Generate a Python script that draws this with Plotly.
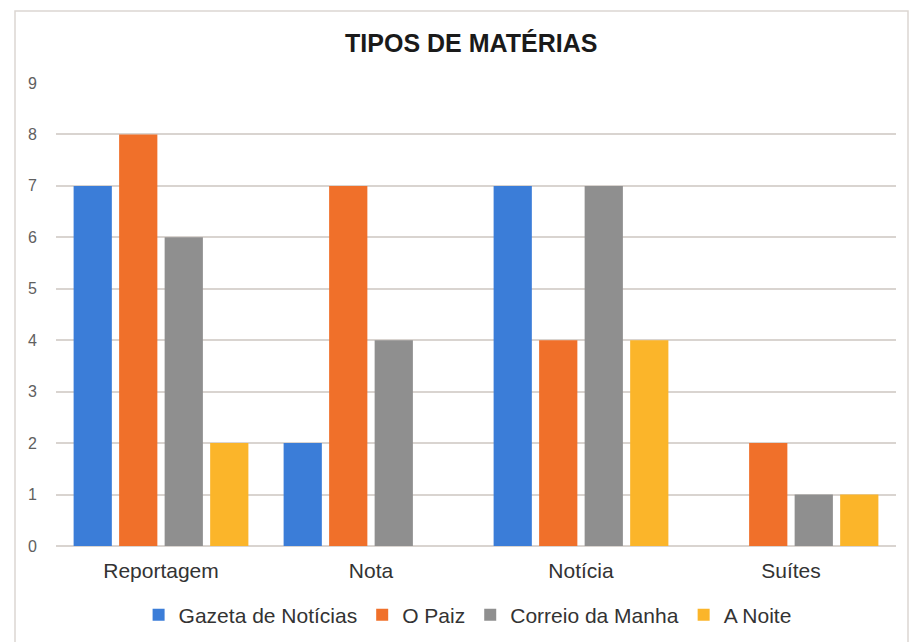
import plotly.graph_objects as go

categories = ["Reportagem", "Nota", "Notícia", "Suítes"]
series_names = ["Gazeta de Notícias", "O Paiz", "Correio da Manha", "A Noite"]
gazeta = [7, 2, 7, 0]
o_paiz = [8, 7, 4, 2]
correio = [6, 4, 7, 1]
a_noite = [2, 0, 4, 1]
y_ticks = [0, 1, 2, 3, 4, 5, 6, 7, 8, 9]

values = [gazeta, o_paiz, correio, a_noite]
colors = ["#3B7DD8", "#F0702A", "#8F8F8F", "#FBB52A"]

fig = go.Figure()
for name, vals, col in zip(series_names, values, colors):
    fig.add_trace(go.Bar(x=categories, y=vals, name=name, marker=dict(color=col, line=dict(width=0))))

fig.update_layout(
    width=915, height=642,
    paper_bgcolor="white", plot_bgcolor="white",
    margin=dict(l=56, r=19, t=83, b=96, autoexpand=False),
    barmode="group", bargap=0.133, bargroupgap=0.16,
    font=dict(family="Liberation Sans, Arial, sans-serif", color="#404040"),
    title=dict(text="<b>TIPOS DE MATÉRIAS</b>", x=0.515, xanchor="center", y=1 - 43 / 642, yanchor="middle",
               yref="container", font=dict(size=25, color="#1a1a1a")),
    legend=dict(orientation="h", x=0.49, xanchor="center", y=1 - 615 / 642, yanchor="middle", yref="container",
                font=dict(size=21, color="#333333"), itemwidth=30, traceorder="normal"),
    showlegend=True,
)
fig.update_xaxes(showgrid=False, showline=False, ticks="", tickfont=dict(size=21, color="#333333"),
                 ticklabelstandoff=10, automargin=False)
fig.update_yaxes(range=[0, 9], tickvals=y_ticks, showgrid=True, gridcolor="#D9D4D0", gridwidth=1.5,
                 zeroline=True, zerolinecolor="#D9D4D0", zerolinewidth=1.5, showline=False, ticks="",
                 tickfont=dict(size=16, color="#606060"), ticklabelstandoff=18, automargin=False)
fig.add_shape(type="rect", xref="paper", yref="paper",
              x0=(15 - 56) / 840, x1=(908 - 56) / 840, y0=-(642 - 546) / 463 - 0.01, y1=(546 - 11) / 463,
              line=dict(color="#DCD6D2", width=1.5), fillcolor="rgba(0,0,0,0)", layer="below")

fig.write_html("out.html", config={"displayModeBar": False},
               post_script="document.body.style.margin='0px';document.body.style.overflow='hidden';")
